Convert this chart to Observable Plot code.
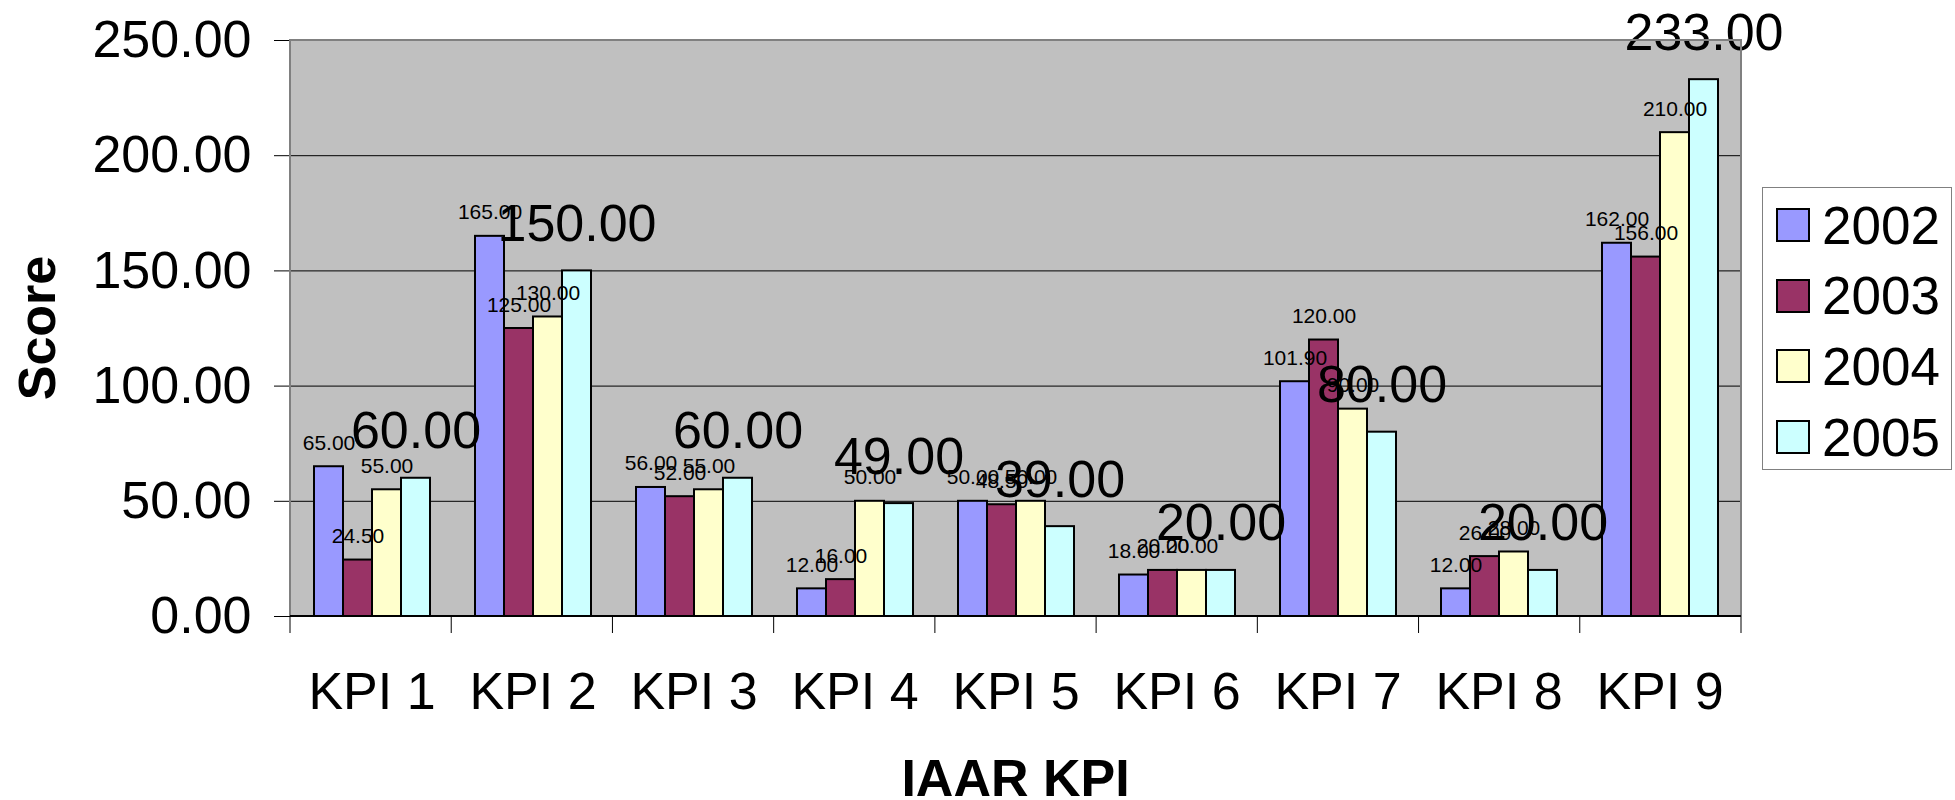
<!DOCTYPE html>
<html>
<head>
<meta charset="utf-8">
<script src="https://cdn.jsdelivr.net/npm/d3@7"></script>
<script src="https://cdn.jsdelivr.net/npm/@observablehq/plot@0.6"></script>
<style>
  html, body { margin: 0; padding: 0; background: #fff; }
  #wrap { position: relative; width: 1955px; height: 800px; overflow: hidden; font-family: "Liberation Sans", Arial, sans-serif; }
  #wrap svg { position: absolute; left: 0; top: 0; }
  #legend { position: absolute; left: 1762px; top: 187px; width: 190px; height: 283px; box-sizing: border-box;
            border: 1px solid #808080; background: #fff; padding-top: 2px; }
  .item { height: 70.6px; display: flex; align-items: center; padding-left: 13px; }
  .sw { width: 30px; height: 30px; border: 2px solid #000; margin-right: 12px; flex: none; }
  .lab { font-size: 53px; line-height: 1; color: #000; }
</style>
</head>
<body>
<div id="wrap"></div>
<script>
// ---- data ----
const kpis = ["KPI 1", "KPI 2", "KPI 3", "KPI 4", "KPI 5", "KPI 6", "KPI 7", "KPI 8", "KPI 9"];
const years = ["2002", "2003", "2004", "2005"];
const v2002 = [65, 165, 56, 12, 50, 18, 101.9, 12, 162];
const v2003 = [24.5, 125, 52, 16, 48.5, 20, 120, 26, 156];
const v2004 = [55, 130, 55, 50, 50, 20, 90, 28, 210];
const v2005 = [60, 150, 60, 49, 39, 20, 80, 20, 233];
const colors = ["#9999FF", "#993366", "#FFFFCC", "#CCFFFF"];
const yTicks = [0, 50, 100, 150, 200, 250];
const yTitle = "Score";
const xTitle = "IAAR KPI";

const series = [v2002, v2003, v2004, v2005];
const rows = kpis.flatMap((k, i) => years.map((y, j) => ({kpi: k, year: y, value: series[j][i]})));

const W = 1955, H = 800, ML = 290, MR = 214, MT = 40, MB = 184;
const FONT = "'Liberation Sans', Arial, sans-serif";

const plot = Plot.plot({
  width: W, height: H,
  marginLeft: ML, marginRight: MR, marginTop: MT, marginBottom: MB,
  style: {fontFamily: FONT, fontSize: "52px", background: "transparent", color: "#000", overflow: "visible"},
  fx: {domain: kpis, padding: 0, axis: "bottom", label: null, tickSize: 0, tickPadding: 56},
  x: {domain: years, paddingInner: 0, paddingOuter: 0.75, axis: null},
  y: {domain: [0, 250], ticks: yTicks, tickFormat: d => d.toFixed(2), tickSize: 17, tickPadding: 23, label: null},
  color: {domain: years, range: colors},
  marks: [
    Plot.ruleY(yTicks.filter(t => t > 0 && t < 250), {stroke: "#000", strokeWidth: 1}),
    Plot.barY(rows, {fx: "kpi", x: "year", y: "value", fill: "year", stroke: "#000", strokeWidth: 2}),
    Plot.text(rows.filter(d => d.year !== "2005"), {
      fx: "kpi", x: "year", y: "value", text: d => d.value.toFixed(2),
      fontSize: 21, lineAnchor: "bottom", dy: -17, fill: "#000"
    }),
    Plot.text(rows.filter(d => d.year === "2005"), {
      fx: "kpi", x: "year", y: "value", text: d => d.value.toFixed(2),
      fontSize: 52, lineAnchor: "bottom", dy: -30, fill: "#000"
    })
  ]
});

const wrap = document.getElementById("wrap");
wrap.appendChild(plot);

// ---- decorations drawn from the plot's own scales ----
const svg = d3.select(plot);
const fxS = plot.scale("fx");
const yS = plot.scale("y");
const [fx0, fx1] = fxS.range;
const y0 = yS.range[0], y1 = yS.range[1];
const step = (fx1 - fx0) / kpis.length;

// plot-area background behind everything
svg.insert("rect", ":first-child")
  .attr("x", fx0).attr("y", y1).attr("width", fx1 - fx0).attr("height", y0 - y1)
  .attr("fill", "#c0c0c0");

// border: left/top/right gray
svg.append("path")
  .attr("d", `M${fx0},${y0}V${y1}H${fx1}V${y0}`)
  .attr("fill", "none").attr("stroke", "#808080").attr("stroke-width", 2);
// bottom axis line
svg.append("line")
  .attr("x1", fx0).attr("x2", fx1).attr("y1", y0).attr("y2", y0)
  .attr("stroke", "#000").attr("stroke-width", 2);
// category boundary ticks
svg.append("g").selectAll("line").data(d3.range(kpis.length + 1)).join("line")
  .attr("x1", i => fx0 + i * step).attr("x2", i => fx0 + i * step)
  .attr("y1", y0).attr("y2", y0 + 17)
  .attr("stroke", "#000").attr("stroke-width", 1);

// axis titles
svg.append("text")
  .attr("transform", `translate(55,${(y0 + y1) / 2}) rotate(-90)`)
  .attr("text-anchor", "middle")
  .attr("font-family", FONT).attr("font-size", 52).attr("font-weight", "bold")
  .attr("fill", "#000")
  .text(yTitle);
svg.append("text")
  .attr("x", (fx0 + fx1) / 2).attr("y", 796)
  .attr("text-anchor", "middle")
  .attr("font-family", FONT).attr("font-size", 52).attr("font-weight", "bold")
  .attr("fill", "#000")
  .text(xTitle);

// legend
const legend = document.createElement("div");
legend.id = "legend";
years.forEach((y, j) => {
  const it = document.createElement("div");
  it.className = "item";
  const sw = document.createElement("div");
  sw.className = "sw";
  sw.style.background = colors[j];
  const lab = document.createElement("div");
  lab.className = "lab";
  lab.textContent = y;
  it.appendChild(sw); it.appendChild(lab);
  legend.appendChild(it);
});
wrap.appendChild(legend);
</script>
</body>
</html>
